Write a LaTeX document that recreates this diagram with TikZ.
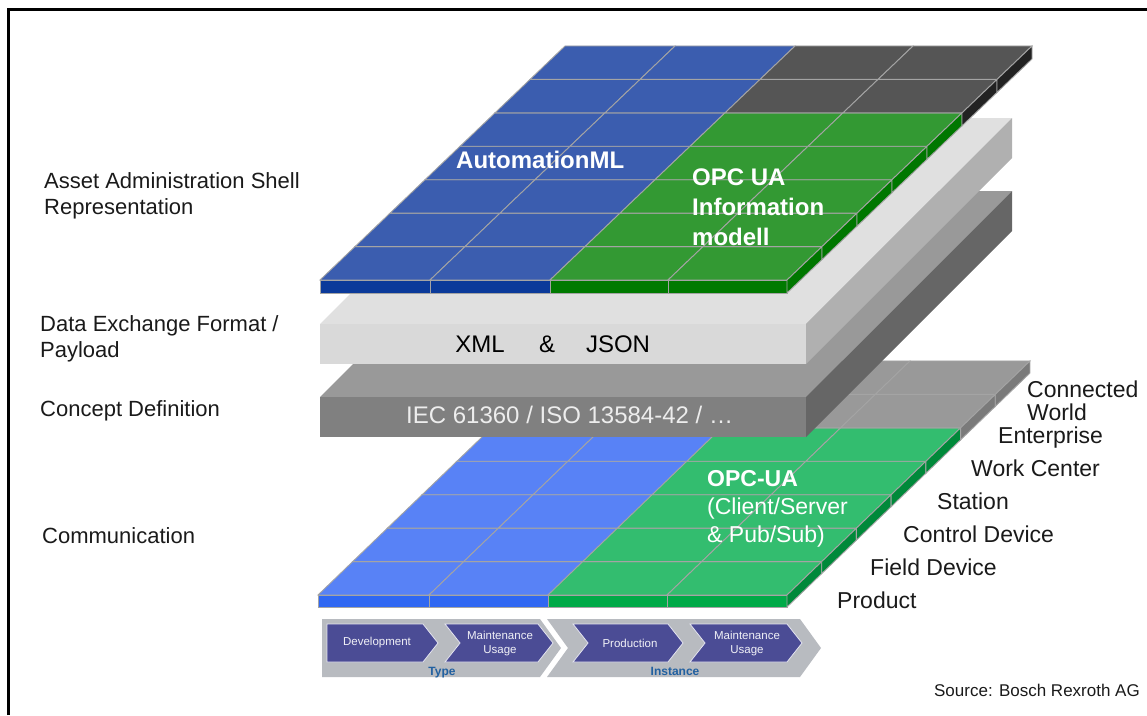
\documentclass[tikz,border=0pt]{standalone}
\usepackage{fontspec}
\setmainfont{Liberation Sans}
\definecolor{tc0}{HTML}{3B5DAF}
\definecolor{tc1}{HTML}{339933}
\definecolor{tc2}{HTML}{555555}
\definecolor{tf0}{HTML}{0B3A9A}
\definecolor{tf1}{HTML}{007A00}
\definecolor{ts1}{HTML}{007700}
\definecolor{ts2}{HTML}{222222}
\definecolor{bc0}{HTML}{5882F6}
\definecolor{bc1}{HTML}{33BD6F}
\definecolor{bc2}{HTML}{999999}
\definecolor{bf0}{HTML}{2F67F2}
\definecolor{bf1}{HTML}{00AA48}
\definecolor{bs1}{HTML}{00893A}
\definecolor{bs2}{HTML}{7A7A7A}
\definecolor{gridline}{HTML}{A4A4A4}
\definecolor{slabAtop}{HTML}{E0E0E0}
\definecolor{slabAfront}{HTML}{D9D9D9}
\definecolor{slabAside}{HTML}{B0B0B0}
\definecolor{slabBtop}{HTML}{999999}
\definecolor{slabBfront}{HTML}{808080}
\definecolor{slabBside}{HTML}{666666}
\definecolor{chevgray}{HTML}{B8BBC0}
\definecolor{chevpurple}{HTML}{4B4C95}
\definecolor{phaseblue}{HTML}{2160A0}
\definecolor{labelblack}{HTML}{1A1A1A}
\tikzset{
  cell/.style={draw=gridline, line width=0.9pt},
  lbl/.style={anchor=base west, inner sep=0pt, text=labelblack, font=\fontsize{22}{26}\selectfont},
  rlbl/.style={anchor=base west, inner sep=0pt, text=labelblack, font=\fontsize{23}{27}\selectfont},
  gridtxt/.style={anchor=base west, inner sep=0pt, text=white, font=\fontsize{24}{30}\selectfont\bfseries},
  chevtxt/.style={inner sep=0pt, text=white!92!chevpurple, align=center, font=\fontsize{11.5}{14}\selectfont},
  phasetxt/.style={anchor=base, inner sep=0pt, text=phaseblue, font=\fontsize{12}{14}\selectfont\bfseries},
  chevouter/.style={fill=chevgray},
  chevinner/.style={fill=chevpurple, draw=white!85!chevpurple, line width=0.8pt}
}
\begin{document}
\begin{tikzpicture}[x=1pt,y=-1pt]
\useasboundingbox (0,0) rectangle (1147,715);

% ---------- bottom grid (Communication) ----------
\foreach \j in {0,...,6}{\foreach \i/\xa/\xb in {0/0/111, 1/111/230, 2/230/349, 3/349/469}{
  \pgfmathtruncatemacro\cidx{\i<2 ? 0 : (\j<5 ? 1 : 2)}
  \filldraw[cell, fill=bc\cidx] ({318+\xa+\j*34.71},{595-\j*33.43}) -- ({318+\xb+\j*34.71},{595-\j*33.43}) -- ({318+\xb+(\j+1)*34.71},{595-(\j+1)*33.43}) -- ({318+\xa+(\j+1)*34.71},{595-(\j+1)*33.43}) -- cycle;
}}
\foreach \i/\xa/\xb in {0/0/111, 1/111/230, 2/230/349, 3/349/469}{
  \pgfmathtruncatemacro\cidx{\i<2 ? 0 : 1}
  \filldraw[cell, fill=bf\cidx] ({318+\xa},595) rectangle ({318+\xb},607);
}
\foreach \j in {0,...,6}{
  \pgfmathtruncatemacro\cidx{\j<5 ? 1 : 2}
  \filldraw[cell, fill=bs\cidx] ({787+\j*34.71},{595-\j*33.43}) -- ++(34.71,-33.43) -- ++(0,12) -- ++(-34.71,33.43) -- cycle;
}

% ---------- slab: Concept Definition ----------
\fill[slabBtop] (320,397) -- (806,397) -- (1012,191) -- (526,191) -- cycle;
\fill[slabBside] (806,397) -- (1012,191) -- (1012,231) -- (806,437) -- cycle;
\fill[slabBfront] (320,397) rectangle (806,437);

% ---------- slab: Data Exchange Format ----------
\fill[slabAtop] (320,324) -- (806,324) -- (1012,118) -- (526,118) -- cycle;
\fill[slabAside] (806,324) -- (1012,118) -- (1012,158) -- (806,364) -- cycle;
\fill[slabAfront] (320,324) rectangle (806,364);

% ---------- top grid (AAS Representation) ----------
\foreach \j in {0,...,6}{\foreach \i/\xa/\xb in {0/0/110, 1/110/230, 2/230/348, 3/348/467}{
  \pgfmathtruncatemacro\cidx{\i<2 ? 0 : (\j<5 ? 1 : 2)}
  \filldraw[cell, fill=tc\cidx] ({320+\xa+\j*35},{280-\j*33.43}) -- ({320+\xb+\j*35},{280-\j*33.43}) -- ({320+\xb+(\j+1)*35},{280-(\j+1)*33.43}) -- ({320+\xa+(\j+1)*35},{280-(\j+1)*33.43}) -- cycle;
}}
\foreach \i/\xa/\xb in {0/0/110, 1/110/230, 2/230/348, 3/348/467}{
  \pgfmathtruncatemacro\cidx{\i<2 ? 0 : 1}
  \filldraw[cell, fill=tf\cidx] ({320+\xa},280) rectangle ({320+\xb},293);
}
\foreach \j in {0,...,6}{
  \pgfmathtruncatemacro\cidx{\j<5 ? 1 : 2}
  \filldraw[cell, fill=ts\cidx] ({787+\j*35},{280-\j*33.43}) -- ++(35,-33.43) -- ++(0,13) -- ++(-35,33.43) -- cycle;
}

% ---------- texts on layers ----------
\node[gridtxt] (aml) at (456,168) {AutomationML};
\node[gridtxt] (opc1) at (692,185) {OPC UA};
\node[gridtxt] (opc2) at (692,215) {Information};
\node[gridtxt] (opc3) at (692,245) {modell};
\node[anchor=base, inner sep=0pt, text=black, font=\fontsize{24}{28}\selectfont] (xml) at (480,352) {XML};
\node[anchor=base, inner sep=0pt, text=black, font=\fontsize{24}{28}\selectfont] (amp) at (547,352) {\&};
\node[anchor=base, inner sep=0pt, text=black, font=\fontsize{24}{28}\selectfont] (json) at (618,352) {JSON};
\node[anchor=base west, inner sep=0pt, text=white!93!black, font=\fontsize{24}{28}\selectfont] (iec) at (406,423) {IEC 61360 / ISO 13584-42 / …};
\node[gridtxt, font=\fontsize{23}{28}\selectfont\bfseries] (opcua) at (707,486) {OPC-UA};
\node[anchor=base west, inner sep=0pt, text=white, font=\fontsize{23}{28}\selectfont] (cs) at (707,514) {(Client/Server};
\node[anchor=base west, inner sep=0pt, text=white, font=\fontsize{23}{28}\selectfont] (ps) at (707,542) {\& Pub/Sub)};

% ---------- left labels ----------
\node[lbl] (l1a) at (44,188) {Asset Administration Shell};
\node[lbl] (l1b) at (44,214) {Representation};
\node[lbl] (l2a) at (40,331) {Data Exchange Format /};
\node[lbl] (l2b) at (40,357) {Payload};
\node[lbl] (l3) at (40,416) {Concept Definition};
\node[lbl] (l4) at (42,543) {Communication};

% ---------- right labels ----------
\node[rlbl] (r1a) at (1027,397) {Connected};
\node[rlbl] (r1b) at (1027,420) {World};
\node[rlbl] (r2) at (998,443) {Enterprise};
\node[rlbl] (r3) at (971,476) {Work Center};
\node[rlbl] (r4) at (937,509) {Station};
\node[rlbl] (r5) at (903,542) {Control Device};
\node[rlbl] (r6) at (870,575) {Field Device};
\node[rlbl] (r7) at (837,608) {Product};

% ---------- life cycle chevrons ----------
\fill[chevouter] (322,619) -- (540,619) -- (561,648) -- (540,677) -- (322,677) -- cycle;
\fill[chevouter] (547,619) -- (800,619) -- (821,648) -- (800,677) -- (547,677) -- (568,648) -- cycle;
\filldraw[chevinner] (327,624) -- (423,624) -- (438,643) -- (423,662) -- (327,662) -- cycle;
\filldraw[chevinner] (445,624) -- (538,624) -- (553,643) -- (538,662) -- (445,662) -- (460,643) -- cycle;
\filldraw[chevinner] (573,624) -- (668,624) -- (683,643) -- (668,662) -- (573,662) -- (588,643) -- cycle;
\filldraw[chevinner] (690,624) -- (787,624) -- (802,643) -- (787,662) -- (690,662) -- (705,643) -- cycle;
\node[chevtxt] (dev) at (377,643) {Development};
\node[chevtxt] (mu1) at (500,644) {Maintenance\\Usage};
\node[chevtxt] (prod) at (630,643) {Production};
\node[chevtxt] (mu2) at (747,644) {Maintenance\\Usage};
\node[phasetxt] (type) at (442,675) {Type};
\node[phasetxt] (inst) at (675,675) {Instance};

% ---------- source & frame ----------
\node[anchor=base east, inner sep=0pt, text=labelblack, font=\fontsize{17}{20}\selectfont] (src) at (1140,696) {Source: Bosch Rexroth AG};
\draw[line width=3pt] (8,715) -- (8,9) -- (1147,9);
\end{tikzpicture}
\end{document}
